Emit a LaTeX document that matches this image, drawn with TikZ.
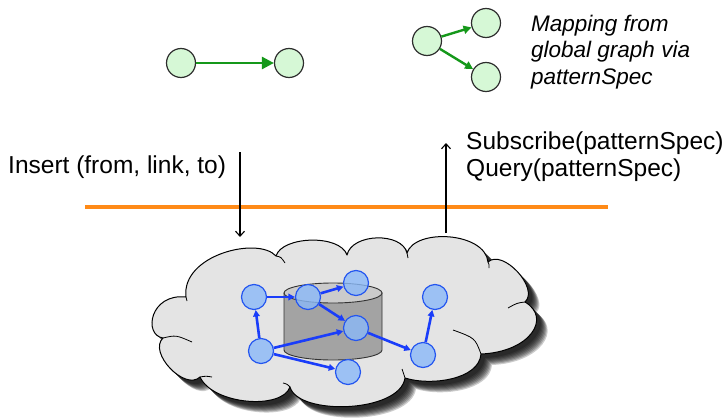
\documentclass[tikz,border=0pt]{standalone}
\usepackage{fontspec}
\setmainfont{Liberation Sans}
\usetikzlibrary{arrows.meta}

\definecolor{greenfill}{HTML}{D6F8D6}
\definecolor{greenline}{HTML}{15981A}
\definecolor{bluefill}{HTML}{8AB9F8}
\definecolor{blueborder}{HTML}{2456F0}
\definecolor{blueline}{HTML}{1A3DFA}
\definecolor{cloudfill}{HTML}{E4E4E4}
\definecolor{barorange}{HTML}{FF8A17}
\definecolor{cylbody}{HTML}{A3A3A3}
\definecolor{cyltop}{HTML}{CBCBCB}

% outline of the cloud: bumps joined at their valleys
\newcommand\cloudoutline{%
  (163,338) .. controls (143,335) and (150,293) .. (186,297)
  .. controls (181,255) and (258,236) .. (276,256)
  .. controls (282,236) and (340,234) .. (347,255)
  .. controls (352,233) and (402,232) .. (407,253)
  .. controls (415,228) and (485,232) .. (488,262)
  .. controls (502.7,248.4) and (539.7,288.4) .. (525,302)
  .. controls (552,318) and (530,352) .. (481,354)
  .. controls (479,380) and (430,386) .. (405,378)
  .. controls (400,413) and (298,416) .. (290,387)
  .. controls (282,410) and (213,405) .. (200,377)
  .. controls (184.8,391.4) and (147.8,352.4) .. (163,338) -- cycle}

\begin{document}
\begin{tikzpicture}[x=1pt, y=-1pt,
  greennode/.style={circle, draw=black!82, line width=1.2pt, fill=greenfill,
    minimum size=29pt, inner sep=0pt},
  greenarrow/.style={draw=greenline, line width=2.6pt,
    -{Triangle[length=12pt, width=12pt]}},
  greenarrowsmall/.style={draw=greenline, line width=2.4pt,
    -{Triangle[length=8pt, width=8pt]}},
  bluenode/.style={circle, draw=blueborder, line width=1.2pt,
    fill=bluefill, fill opacity=0.8, text opacity=1,
    minimum size=25pt, inner sep=0pt},
  bluearrow/.style={draw=blueline, line width=2.6pt,
    -{Triangle[length=6.5pt, width=6.5pt]}},
  flowarrow/.style={draw=black, line width=1.1pt,
    -{Straight Barb[length=5pt, width=9pt]}},
  labeltext/.style={anchor=base west, inner sep=0pt,
    font=\fontsize{24.5}{27}\selectfont},
  notetext/.style={anchor=base west, inner sep=0pt,
    font=\fontsize{22.5}{26.5}\selectfont\itshape},
  hook/.style={draw=black, line width=0.8pt},
]
\useasboundingbox (0,0) rectangle (727,417);

% ---- small graph pieces at the top ----
\node[greennode] (l1) at (181,63) {};
\node[greennode] (l2) at (289,63) {};
\draw[greenarrow] (l1) -- (l2);

\node[greennode] (r1) at (427,41) {};
\node[greennode] (r2) at (486,23) {};
\node[greennode] (r3) at (486,77) {};
\draw[greenarrowsmall] (r1) -- (r2);
\draw[greenarrowsmall] (r1) -- (r3);

\node[notetext] (map1) at (531,31.5) {Mapping from};
\node[notetext] (map2) at (531,58) {global graph via};
\node[notetext] (map3) at (531,84.5) {patternSpec};

% ---- operations crossing the interface line ----
\node[labeltext] (insert) at (8,173) {Insert (from, link, to)};
\node[labeltext] (subscribe) at (466,149) {Subscribe(patternSpec)};
\node[labeltext] (query) at (466,176) {Query(patternSpec)};

\draw[barorange, line width=4pt] (85,207) coordinate (barL) -- (608,207) coordinate (barR);

\coordinate (insTop) at (240,152);
\coordinate (insBot) at (240,237);
\draw[flowarrow] (insTop) -- (insBot);

\coordinate (qryBot) at (446,233);
\coordinate (qryTop) at (446,143);
\draw[flowarrow] (qryBot) -- (qryTop);

% ---- cloud with its soft shadow ----
\foreach \d in {4,...,11} {
  \fill[black, opacity=0.2, shift={(\d,\d)}] \cloudoutline;
}
\filldraw[fill=cloudfill, draw=black, line width=1pt, line join=round] \cloudoutline;

% inner curls of the cloud
\draw[hook] (163,338) .. controls (176,335) .. (192,342);
\draw[hook] (186,297) .. controls (187,299) .. (187,301);
\draw[hook] (276,256) .. controls (281,257) .. (285,263);
\draw[hook] (407,253) .. controls (408,255) .. (408,258);
\draw[hook] (488,262) .. controls (489,264) .. (489,268);
\draw[hook] (525,302) .. controls (517,303) .. (508,308);
\draw[hook] (481,354) .. controls (475,338) .. (453,330);
\draw[hook] (405,378) .. controls (403,373) .. (402,369);
\draw[hook] (290,387) .. controls (287,384) .. (283,383);
\draw[hook] (200,377) .. controls (206,376) .. (212,377);

% ---- storage cylinder ----
\filldraw[fill=cylbody, draw=black!80, line width=0.9pt]
  (284,293) -- (284,350)
  .. controls (284,355.5) and (305.9,360) .. (333,360)
  .. controls (360.1,360) and (382,355.5) .. (382,350)
  -- (382,293) -- cycle;
\filldraw[fill=cyltop, draw=black!80, line width=0.9pt]
  (333,293) ellipse [x radius=49, y radius=10];

% ---- stored graph ----
\node[bluenode] (bA) at (254,297) {};
\node[bluenode] (bB) at (308,297) {};
\node[bluenode] (bC) at (356,283) {};
\node[bluenode] (bD) at (356,328) {};
\node[bluenode] (bE) at (261,351) {};
\node[bluenode] (bF) at (348,372) {};
\node[bluenode] (bG) at (423,355) {};
\node[bluenode] (bH) at (435,297) {};

\draw[bluearrow] (bA) -- (bB);
\draw[bluearrow] (bB) -- (bC);
\draw[bluearrow] (bB) -- (bD);
\draw[bluearrow] (bE) -- (bA);
\draw[bluearrow] (bE) -- (bD);
\draw[bluearrow] (bE) -- (bF);
\draw[bluearrow] (bD) -- (bG);
\draw[bluearrow] (bG) -- (bH);
\end{tikzpicture}
\end{document}
